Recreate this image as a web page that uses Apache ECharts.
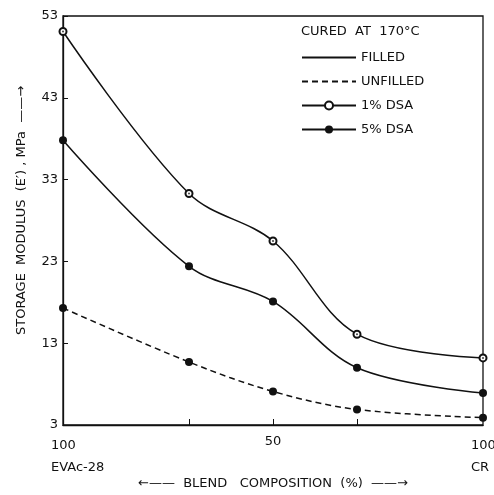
<!DOCTYPE html>
<html>
<head>
<meta charset="utf-8">
<script src="https://cdn.jsdelivr.net/npm/echarts@6/dist/echarts.min.js"></script>
<style>
html,body{margin:0;padding:0;background:#fff;}
#main{width:494px;height:495px;}
</style>
</head>
<body>
<div id="main"></div>
<script>
// ---- data (x = CR content in %, 0 = 100% EVAc-28) ----
const xValues   = [0, 30, 50, 70, 100];
const dsa1      = [51.1, 31.3, 25.5, 14.1, 11.2];   // filled, 1% DSA
const dsa5      = [37.8, 22.4, 18.1, 10.0, 6.9];    // filled, 5% DSA
const unfilled  = [17.3, 10.7, 7.1, 4.9, 3.9];      // unfilled
const yMin = 3, yMax = 53, yStep = 10;
const xTickValues = [30, 50, 70];
const xMidLabels  = [50];
const xEdgeLabels = [[0, '100', 'EVAc-28'], [100, '100', 'CR']];
const legendNames = ['FILLED', 'UNFILLED', '1% DSA', '5% DSA'];
const conditionText = 'CURED  AT  170\u00B0C';
const yTitle = 'STORAGE  MODULUS  (E\u2032) , MPa  \u2014\u2014\u2192';
const xTitle = '\u2190\u2014\u2014  BLEND   COMPOSITION  (%)  \u2014\u2014\u2192';

const FONT = 'DejaVu Sans';
const SMOOTH = 0.35;
const pairs = arr => xValues.map((x, i) => [x, arr[i]]);

const chart = echarts.init(document.getElementById('main'), null, {renderer: 'canvas'});
const black = '#111';
const option = {
  animation: false,
  backgroundColor: '#fff',
  textStyle: {fontFamily: FONT, color: black},
  title: {
    text: conditionText, left: 301, top: 25, padding: 0,
    textStyle: {fontFamily: FONT, fontSize: 13, fontWeight: 'normal', color: black}
  },
  legend: {
    data: [
      {name: legendNames[0], itemStyle: {opacity: 0}},
      {name: legendNames[1], itemStyle: {opacity: 0}},
      {name: legendNames[2]},
      {name: legendNames[3]}
    ],
    orient: 'vertical', left: 301, top: 51, padding: 0,
    itemWidth: 54, itemHeight: 10, itemGap: 11,
    textStyle: {fontFamily: FONT, fontSize: 13, color: black}
  },
  grid: {left: 63, right: 11, top: 16, bottom: 65, show: true, borderColor: black, borderWidth: 1.3, backgroundColor: 'transparent'},
  xAxis: {
    type: 'value', min: 0, max: 100,
    name: xTitle, nameLocation: 'middle', nameGap: 52,
    nameTextStyle: {fontFamily: FONT, fontSize: 13, color: black},
    axisLine: {show: true, lineStyle: {color: black, width: 1.3}},
    axisTick: {show: true, inside: true, length: 6, customValues: xTickValues, lineStyle: {color: black}},
    axisLabel: {customValues: xMidLabels, margin: 10, fontFamily: FONT, fontSize: 13, color: black},
    splitLine: {show: false}
  },
  yAxis: {
    type: 'value', min: yMin, max: yMax, interval: yStep,
    name: yTitle, nameLocation: 'middle', nameGap: 35,
    nameTextStyle: {fontFamily: FONT, fontSize: 13, color: black, padding: [0, 0, 0, 20]},
    axisLine: {show: true, lineStyle: {color: black, width: 1.3}},
    axisTick: {show: true, inside: true, length: 5, lineStyle: {color: black}},
    axisLabel: {margin: 5, fontFamily: FONT, fontSize: 13, color: black},
    splitLine: {show: false}
  },
  series: [
    {name: 'FILLED', type: 'line', data: [], symbol: 'none', lineStyle: {color: black, width: 1.5, type: 'solid'}, itemStyle: {color: black}},
    {name: 'UNFILLED', type: 'line', data: [], symbol: 'none', lineStyle: {color: black, width: 1.5, type: [6, 4]}, itemStyle: {color: black}},
    {name: '1% DSA', type: 'line', data: pairs(dsa1), smooth: SMOOTH,
      symbol: 'emptyCircle', symbolSize: 7,
      lineStyle: {color: black, width: 1.5}, itemStyle: {color: black, borderColor: black, borderWidth: 1.2}, z: 3},
    {name: '1% DSA centre', type: 'scatter', data: pairs(dsa1), symbol: 'circle', symbolSize: 2,
      itemStyle: {color: black}, z: 5, silent: true},
    {name: '5% DSA', type: 'line', data: pairs(dsa5), smooth: SMOOTH,
      symbol: 'circle', symbolSize: 8,
      lineStyle: {color: black, width: 1.5}, itemStyle: {color: black}, z: 3},
    {name: 'UNFILLED 5% DSA', type: 'line', data: pairs(unfilled), smooth: SMOOTH,
      symbol: 'circle', symbolSize: 8,
      lineStyle: {color: black, width: 1.5, type: [6, 4]}, itemStyle: {color: black}, z: 3}
  ]
};
chart.setOption(option);

// edge tick labels (left-aligned under the ends of the x axis)
const axisY = chart.convertToPixel({yAxisIndex: 0}, yMin);
chart.setOption({
  graphic: xEdgeLabels.map(([v, a, b]) => ({
    type: 'text',
    x: chart.convertToPixel({xAxisIndex: 0}, v) - 12,
    y: axisY + 10,
    style: {text: a + '\n' + b, font: '13px "' + FONT + '"', fill: black, lineHeight: 22, align: 'left', verticalAlign: 'top'}
  }))
});
</script>
</body>
</html>
